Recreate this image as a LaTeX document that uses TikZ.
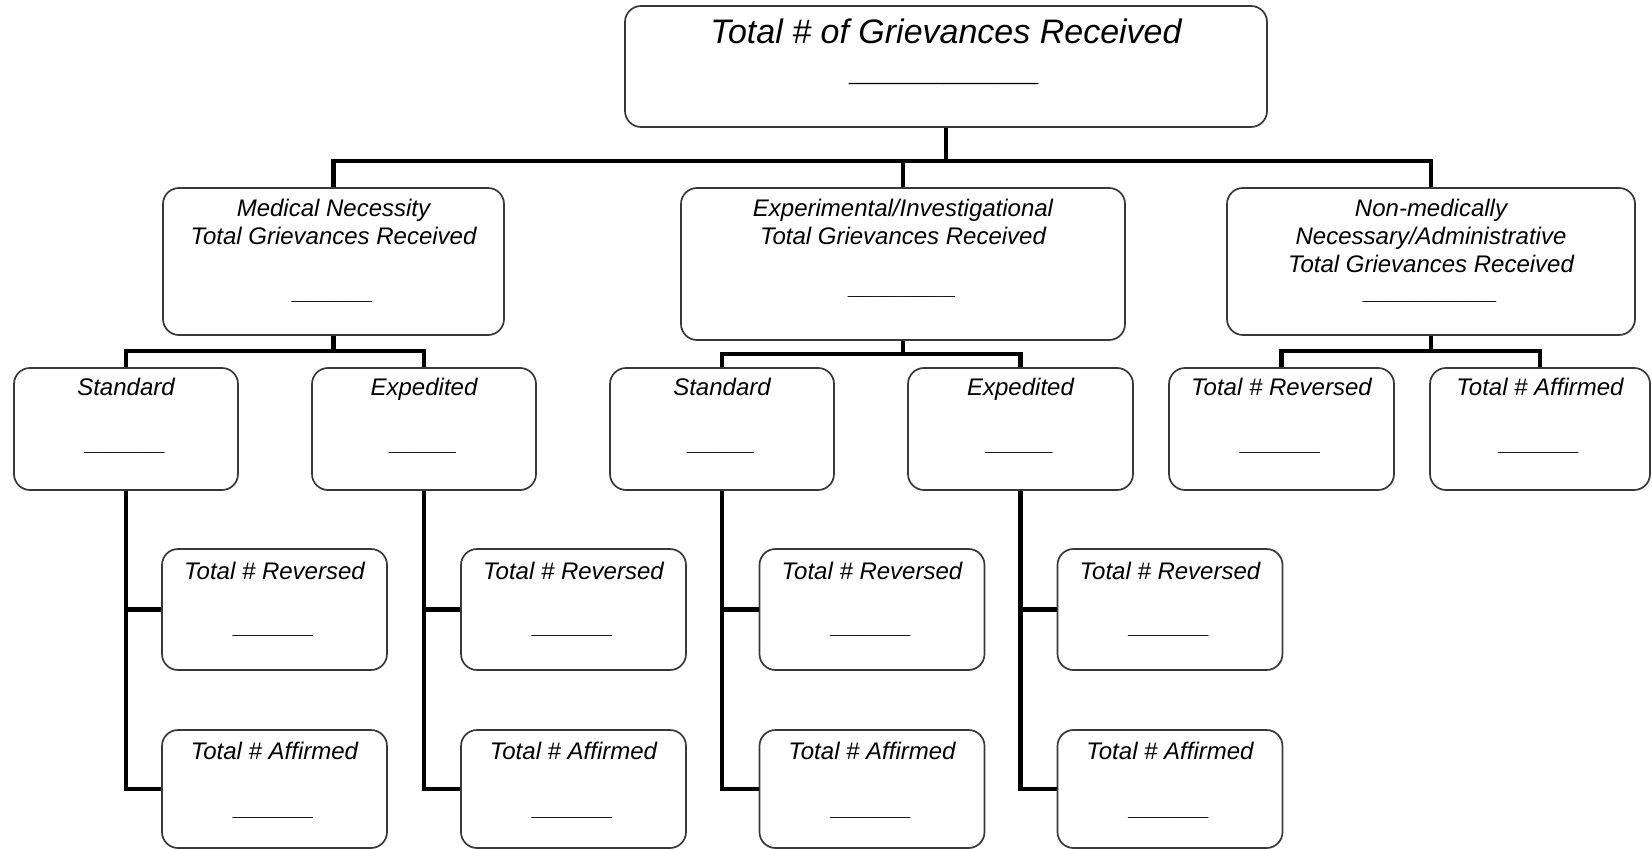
\documentclass[tikz,border=0pt]{standalone}
\usepackage{fontspec}
\setmainfont{Liberation Sans}
\begin{document}
\begin{tikzpicture}[x=0.5pt,y=-0.5pt,
  box/.style={draw=black!78, line width=0.85pt, rounded corners=8pt, inner sep=0pt},
  lbl/.style={font=\itshape\fontsize{12}{14}\selectfont, anchor=base, inner sep=0pt},
  ttl/.style={font=\itshape\fontsize{17}{20}\selectfont, anchor=base, inner sep=0pt},
  conn/.style={line width=2.3pt}]
\useasboundingbox (0,0) rectangle (1652,849);

% ---------- boxes ----------
\node[box, minimum width=321pt, minimum height=60.5pt] (top) at (946,66.5) {};
\node[box, minimum width=170.5pt, minimum height=73.5pt] (MN) at (333.5,261.5) {};
\node[box, minimum width=222pt, minimum height=76pt] (EI) at (903,264) {};
\node[box, minimum width=204pt, minimum height=73.5pt] (NM) at (1431,261.5) {};

\node[box, minimum width=112pt, minimum height=61pt] (S1) at (126,429) {};
\node[box, minimum width=112pt, minimum height=61pt] (E1) at (424,429) {};
\node[box, minimum width=112pt, minimum height=61pt] (S2) at (722,429) {};
\node[box, minimum width=112.5pt, minimum height=61pt] (E2) at (1020.5,429) {};
\node[box, minimum width=112.5pt, minimum height=61pt] (R3) at (1281.5,429) {};
\node[box, minimum width=110pt, minimum height=61pt] (A3) at (1540,429) {};

\node[box, minimum width=112.5pt, minimum height=60.5pt] (R1) at (274.5,609.5) {};
\node[box, minimum width=112.5pt, minimum height=59pt] (A1) at (274.5,789) {};
\node[box, minimum width=112.5pt, minimum height=60.5pt] (R2) at (573.5,609.5) {};
\node[box, minimum width=112.5pt, minimum height=59pt] (A2) at (573.5,789) {};
\node[box, minimum width=112.5pt, minimum height=60.5pt] (R4) at (872,609.5) {};
\node[box, minimum width=112.5pt, minimum height=59pt] (A4) at (872,789) {};
\node[box, minimum width=112.5pt, minimum height=60.5pt] (R5) at (1170,609.5) {};
\node[box, minimum width=112.5pt, minimum height=59pt] (A5) at (1170,789) {};

% ---------- texts ----------
\node[ttl] (ttop) at (946,44) {Total \# of Grievances Received};
\node[ttl] (btop) at (946,81) {\_\_\_\_\_\_\_\_\_\_};

\node[lbl] (tMN1) at (333.5,217) {Medical Necessity};
\node[lbl] (tMN2) at (333.5,245) {Total Grievances Received};
\node[lbl] (bMN) at (333.5,300) {\_\_\_\_\_\_};

\node[lbl] (tEI1) at (903,217) {Experimental/Investigational};
\node[lbl] (tEI2) at (903,245) {Total Grievances Received};
\node[lbl] (bEI) at (903,295) {\_\_\_\_\_\_\_\_};

\node[lbl] (tNM1) at (1431,217) {Non-medically};
\node[lbl] (tNM2) at (1431,245) {Necessary/Administrative};
\node[lbl] (tNM3) at (1431,273) {Total Grievances Received};
\node[lbl] (bNM) at (1431,300) {\_\_\_\_\_\_\_\_\_\_};

\node[lbl] (tS1) at (126,396) {Standard};
\node[lbl] (bS1) at (126,451) {\_\_\_\_\_\_};
\node[lbl] (tE1) at (424,396) {Expedited};
\node[lbl] (bE1) at (424,451) {\_\_\_\_\_};
\node[lbl] (tS2) at (722,396) {Standard};
\node[lbl] (bS2) at (722,451) {\_\_\_\_\_};
\node[lbl] (tE2) at (1020.5,396) {Expedited};
\node[lbl] (bE2) at (1020.5,451) {\_\_\_\_\_};
\node[lbl] (tR3) at (1281.5,396) {Total \# Reversed};
\node[lbl] (bR3) at (1281.5,451) {\_\_\_\_\_\_};
\node[lbl] (tA3) at (1540,396) {Total \# Affirmed};
\node[lbl] (bA3) at (1540,451) {\_\_\_\_\_\_};

\foreach \n/\x in {1/274.5,2/573.5,4/872,5/1170}{
  \node[lbl] (tR\n) at (\x,579) {Total \# Reversed};
  \node[lbl] (bR\n) at (\x,633) {\_\_\_\_\_\_};
  \node[lbl] (tA\n) at (\x,759) {Total \# Affirmed};
  \node[lbl] (bA\n) at (\x,815) {\_\_\_\_\_\_};
}

% ---------- connectors ----------
\coordinate (barT) at (0,161);
\coordinate (barM) at (0,351);
\coordinate (barE) at (0,354);

\draw[conn] (top.south) -- (top.south |- barT);
\draw[conn] (MN.north) |- (NM.north |- barT) -- (NM.north);
\draw[conn] (EI.north) -- (EI.north |- barT);

\draw[conn] (MN.south) -- (MN.south |- barM);
\draw[conn] (S1.north) |- (E1.north |- barM) -- (E1.north);
\draw[conn] (EI.south) -- (EI.south |- barE);
\draw[conn] (S2.north) |- (E2.north |- barE) -- (E2.north);
\draw[conn] (NM.south) -- (NM.south |- barM);
\draw[conn] (R3.north) |- (A3.north |- barM) -- (A3.north);

\draw[conn] (S1.south) |- (A1.west);
\draw[conn] (S1.south |- R1.west) -- (R1.west);
\draw[conn] (E1.south) |- (A2.west);
\draw[conn] (E1.south |- R2.west) -- (R2.west);
\draw[conn] (S2.south) |- (A4.west);
\draw[conn] (S2.south |- R4.west) -- (R4.west);
\draw[conn] (E2.south) |- (A5.west);
\draw[conn] (E2.south |- R5.west) -- (R5.west);
\end{tikzpicture}
\end{document}
